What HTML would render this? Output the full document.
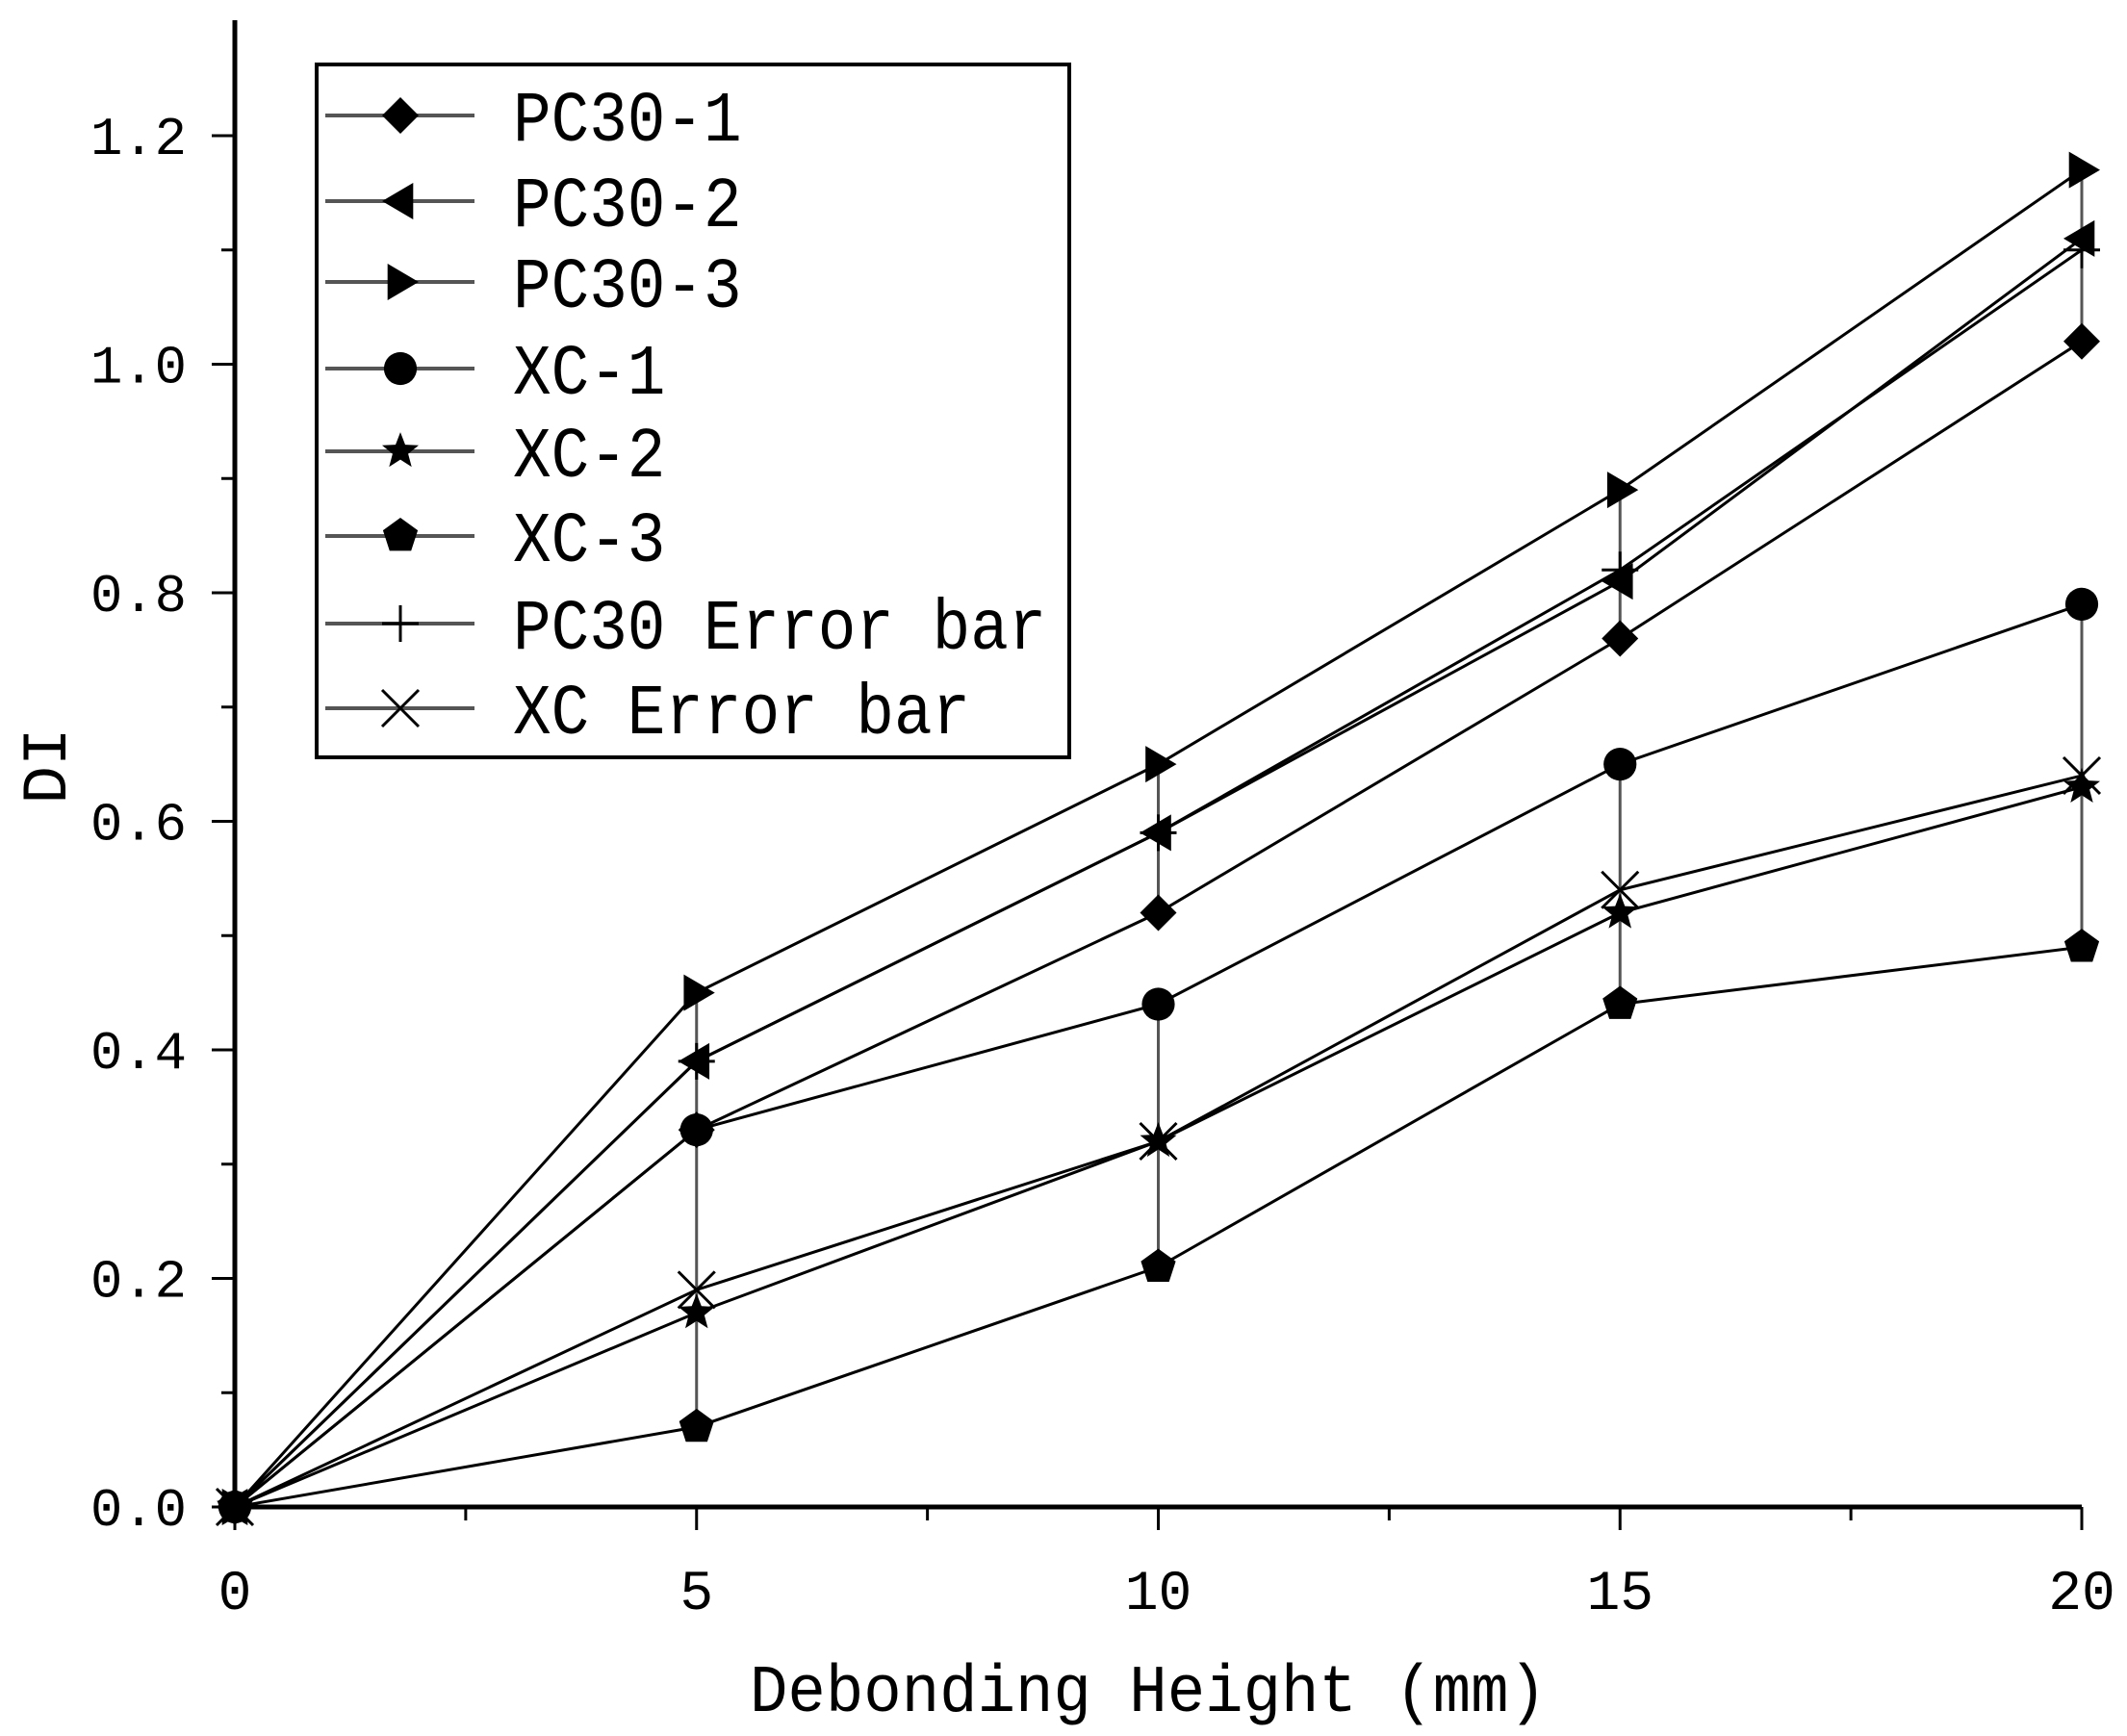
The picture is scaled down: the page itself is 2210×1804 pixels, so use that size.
<!DOCTYPE html>
<html><head><meta charset="utf-8"><style>
html,body{margin:0;padding:0;background:#fff;}
svg{display:block;}
text{font-family:"Liberation Mono",monospace;fill:#000;}
</style></head><body>
<svg id="chart" width="2210" height="1804" viewBox="0 0 2210 1804" xmlns="http://www.w3.org/2000/svg">
<g id="grid"></g>
<g id="errbars"></g>
<g id="series"></g>
<g id="axes"></g>
<g id="legend"></g>
</svg>
<script>
const xCats = [0, 5, 10, 15, 20];
const pc30_1 = [0, 0.33, 0.52, 0.76, 1.02];
const pc30_2 = [0, 0.39, 0.59, 0.81, 1.11];
const pc30_3 = [0, 0.45, 0.65, 0.89, 1.17];
const xc_1 = [0, 0.33, 0.44, 0.65, 0.79];
const xc_2 = [0, 0.17, 0.32, 0.52, 0.63];
const xc_3 = [0, 0.07, 0.21, 0.44, 0.49];
const pc30Mean = [0, 0.39, 0.59, 0.82, 1.10];
const xcMean = [0, 0.19, 0.32, 0.54, 0.64];
const xTicks = [0, 5, 10, 15, 20];
const yTicks = [0.0, 0.2, 0.4, 0.6, 0.8, 1.0, 1.2];

const NS = 'http://www.w3.org/2000/svg';
const X0 = 244, X1 = 2163, Y0 = 1566, Y1 = 141;
const sx = v => X0 + (v - 0) / 20 * (X1 - X0);
const sy = v => Y0 - v / 1.2 * (Y0 - Y1);
function mk(tag, attrs, parent) {
  const e = document.createElementNS(NS, tag);
  for (const k in attrs) e.setAttribute(k, attrs[k]);
  parent.appendChild(e);
  return e;
}
const gErr = document.getElementById('errbars');
const gS = document.getElementById('series');
const gA = document.getElementById('axes');
const gL = document.getElementById('legend');

function marker(type, cx, cy, parent) {
  const r = 19;
  let el;
  if (type === 'diamond') el = mk('polygon', {points: `${cx},${cy-r} ${cx+r},${cy} ${cx},${cy+r} ${cx-r},${cy}`, fill: '#000'}, parent);
  else if (type === 'left') el = mk('polygon', {points: `${cx-r},${cy} ${cx+r*0.7},${cy-r} ${cx+r*0.7},${cy+r}`, fill: '#000'}, parent);
  else if (type === 'right') el = mk('polygon', {points: `${cx+r},${cy} ${cx-r*0.7},${cy-r} ${cx-r*0.7},${cy+r}`, fill: '#000'}, parent);
  else if (type === 'circle') el = mk('circle', {cx: cx, cy: cy, r: r*0.9, fill: '#000'}, parent);
  else if (type === 'star') {
    let p = [];
    for (let i = 0; i < 10; i++) { const a = -Math.PI/2 + i*Math.PI/5; const rr = i%2 ? r*0.45 : r*1.05; p.push((cx+rr*Math.cos(a)).toFixed(1)+','+(cy+rr*Math.sin(a)).toFixed(1)); }
    el = mk('polygon', {points: p.join(' '), fill: '#000'}, parent);
  } else if (type === 'pent') {
    let p = [];
    for (let i = 0; i < 5; i++) { const a = -Math.PI/2 + i*2*Math.PI/5; p.push((cx+r*Math.cos(a)).toFixed(1)+','+(cy+r*Math.sin(a)).toFixed(1)); }
    el = mk('polygon', {points: p.join(' '), fill: '#000'}, parent);
  } else if (type === 'plus') {
    el = mk('path', {d: `M${cx-r},${cy}H${cx+r}M${cx},${cy-r}V${cy+r}`, stroke: '#000', 'stroke-width': 3, fill: 'none'}, parent);
  } else if (type === 'x') {
    el = mk('path', {d: `M${cx-r},${cy-r}L${cx+r},${cy+r}M${cx-r},${cy+r}L${cx+r},${cy-r}`, stroke: '#000', 'stroke-width': 3, fill: 'none'}, parent);
  }
  return el;
}

function errBars(groups, name) {
  for (let i = 0; i < xCats.length; i++) {
    const vals = groups.map(g => g[i]);
    const mn = Math.min(...vals), mx = Math.max(...vals);
    const l = mk('line', {x1: sx(xCats[i]), x2: sx(xCats[i]), y1: sy(mn), y2: sy(mx), stroke: '#555', 'stroke-width': 3}, gErr);
    
    
  }
}
errBars([pc30_1, pc30_2, pc30_3], 'pc30-error-bar');
errBars([xc_1, xc_2, xc_3], 'xc-error-bar');

const seriesList = [
  {name: 'PC30-1', data: pc30_1, m: 'diamond'},
  {name: 'PC30-2', data: pc30_2, m: 'left'},
  {name: 'PC30-3', data: pc30_3, m: 'right'},
  {name: 'XC-1', data: xc_1, m: 'circle'},
  {name: 'XC-2', data: xc_2, m: 'star'},
  {name: 'XC-3', data: xc_3, m: 'pent'},
  {name: 'PC30 Error bar', data: pc30Mean, m: 'plus'},
  {name: 'XC Error bar', data: xcMean, m: 'x'}
];
seriesList.forEach((s, si) => {
  const g = mk('g', {}, gS);
  
  
  const pts = s.data.map((v, i) => sx(xCats[i]) + ',' + sy(v)).join(' ');
  mk('polyline', {points: pts, fill: 'none', stroke: '#000', 'stroke-width': 3}, g);
  s.data.forEach((v, i) => {
    const m = marker(s.m, sx(xCats[i]), sy(v), g);
    
    
  });
});

const ax = mk('path', {d: `M${X0},21V${Y0}H${X1}`, stroke: '#000', 'stroke-width': 5, fill: 'none'}, gA);


for (let v = 0; v <= 20.01; v += 2.5) {
  const major = Math.abs(v % 5) < 0.01;
  mk('line', {x1: sx(v), x2: sx(v), y1: Y0, y2: Y0 + (major ? 24 : 14), stroke: '#000', 'stroke-width': 3}, gA);
}
for (let v = 0; v <= 1.25; v += 0.1) {
  const major = Math.round(v*10) % 2 === 0;
  mk('line', {x1: X0, x2: X0 - (major ? 24 : 14), y1: sy(v), y2: sy(v), stroke: '#000', 'stroke-width': 3}, gA);
}
xTicks.forEach(v => {
  const t = mk('text', {x: sx(v), y: 1672, 'font-size': 58, 'text-anchor': 'middle'}, gA);
  t.textContent = String(v);
  
  
});
yTicks.forEach(v => {
  const t = mk('text', {x: 194, y: sy(v) + 19, 'font-size': 56, 'text-anchor': 'end', textLength: 100, lengthAdjust: 'spacingAndGlyphs'}, gA);
  t.textContent = v.toFixed(1);
  
  
});
const xt = mk('text', {x: 779, y: 1778, 'font-size': 70, textLength: 828, lengthAdjust: 'spacingAndGlyphs'}, gA);
xt.textContent = 'Debonding Height (mm)';


const yt = mk('text', {x: 0, y: 0, 'font-size': 66, 'text-anchor': 'middle', transform: 'translate(68,796) rotate(-90)'}, gA);
yt.textContent = 'DI';



const box = mk('rect', {x: 329, y: 67, width: 782, height: 720, fill: '#fff', stroke: '#000', 'stroke-width': 4}, gL);


const ly = [120, 209, 293, 383, 469, 557, 648, 736];
seriesList.forEach((s, i) => {
  const g = mk('g', {}, gL);
  
  
  mk('line', {x1: 338, x2: 493, y1: ly[i], y2: ly[i], stroke: '#555', 'stroke-width': 4}, g);
  marker(s.m, 416, ly[i], g);
  const t = mk('text', {x: 533, y: ly[i] + 26, 'font-size': 74, textLength: s.name.length * 39.6, lengthAdjust: 'spacingAndGlyphs'}, g);
  t.textContent = s.name;
});
</script>
</body></html>
